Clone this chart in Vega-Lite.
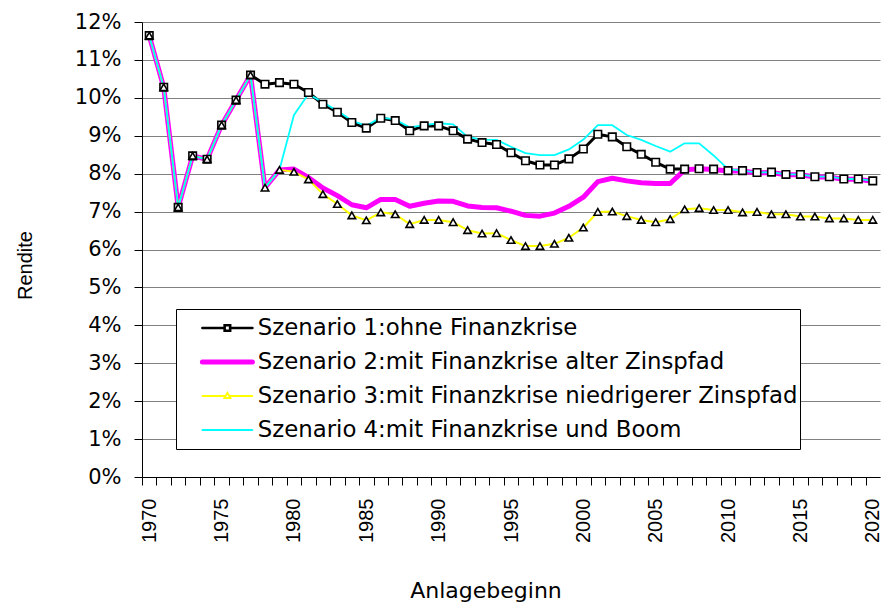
{
  "$schema": "https://vega.github.io/schema/vega-lite/v6.json",
  "width": 738,
  "height": 455,
  "autosize": {"type": "none"},
  "padding": {"left": 142, "top": 22, "right": 4, "bottom": 129},
  "background": "white",
  "config": {"view": {"stroke": null}, "font": "DejaVu Sans"},
  "data": {"values": [
    {"year":1970,"s1":0.1164,"s2":0.1164,"s3":0.1164,"s4":0.1164},
    {"year":1971,"s1":0.1028,"s2":0.1028,"s3":0.1028,"s4":0.1028},
    {"year":1972,"s1":0.0711,"s2":0.0711,"s3":0.0711,"s4":0.0711},
    {"year":1973,"s1":0.0847,"s2":0.0847,"s3":0.0847,"s4":0.0847},
    {"year":1974,"s1":0.0838,"s2":0.0838,"s3":0.0838,"s4":0.0838},
    {"year":1975,"s1":0.0928,"s2":0.0928,"s3":0.0928,"s4":0.0928},
    {"year":1976,"s1":0.0994,"s2":0.0994,"s3":0.0994,"s4":0.0994},
    {"year":1977,"s1":0.1060,"s2":0.1060,"s3":0.1060,"s4":0.1060},
    {"year":1978,"s1":0.1036,"s2":0.0763,"s3":0.0763,"s4":0.0763},
    {"year":1979,"s1":0.1040,"s2":0.0810,"s3":0.0810,"s4":0.0810},
    {"year":1980,"s1":0.1036,"s2":0.0812,"s3":0.0805,"s4":0.0955},
    {"year":1981,"s1":0.1014,"s2":0.0790,"s3":0.0785,"s4":0.1010},
    {"year":1982,"s1":0.0983,"s2":0.0762,"s3":0.0746,"s4":0.0988},
    {"year":1983,"s1":0.0962,"s2":0.0742,"s3":0.0720,"s4":0.0966},
    {"year":1984,"s1":0.0935,"s2":0.0718,"s3":0.0690,"s4":0.0940},
    {"year":1985,"s1":0.0920,"s2":0.0710,"s3":0.0677,"s4":0.0926},
    {"year":1986,"s1":0.0946,"s2":0.0732,"s3":0.0698,"s4":0.0948},
    {"year":1987,"s1":0.0940,"s2":0.0732,"s3":0.0693,"s4":0.0943},
    {"year":1988,"s1":0.0913,"s2":0.0714,"s3":0.0667,"s4":0.0922},
    {"year":1989,"s1":0.0926,"s2":0.0722,"s3":0.0678,"s4":0.0928},
    {"year":1990,"s1":0.0926,"s2":0.0728,"s3":0.0678,"s4":0.0933},
    {"year":1991,"s1":0.0913,"s2":0.0727,"s3":0.0672,"s4":0.0930},
    {"year":1992,"s1":0.0891,"s2":0.0715,"s3":0.0651,"s4":0.0897},
    {"year":1993,"s1":0.0882,"s2":0.0711,"s3":0.0642,"s4":0.0890},
    {"year":1994,"s1":0.0877,"s2":0.0710,"s3":0.0643,"s4":0.0889},
    {"year":1995,"s1":0.0855,"s2":0.0701,"s3":0.0625,"s4":0.0871},
    {"year":1996,"s1":0.0834,"s2":0.0690,"s3":0.0609,"s4":0.0854},
    {"year":1997,"s1":0.0823,"s2":0.0688,"s3":0.0609,"s4":0.0849},
    {"year":1998,"s1":0.0823,"s2":0.0696,"s3":0.0615,"s4":0.0849},
    {"year":1999,"s1":0.0839,"s2":0.0714,"s3":0.0631,"s4":0.0864},
    {"year":2000,"s1":0.0865,"s2":0.0738,"s3":0.0658,"s4":0.0890},
    {"year":2001,"s1":0.0904,"s2":0.0779,"s3":0.0699,"s4":0.0928},
    {"year":2002,"s1":0.0897,"s2":0.0788,"s3":0.0700,"s4":0.0928},
    {"year":2003,"s1":0.0871,"s2":0.0781,"s3":0.0688,"s4":0.0902},
    {"year":2004,"s1":0.0851,"s2":0.0776,"s3":0.0678,"s4":0.0889},
    {"year":2005,"s1":0.0830,"s2":0.0774,"s3":0.0672,"s4":0.0873},
    {"year":2006,"s1":0.0812,"s2":0.0774,"s3":0.0680,"s4":0.0858},
    {"year":2007,"s1":0.0812,"s2":0.0810,"s3":0.0706,"s4":0.0880},
    {"year":2008,"s1":0.0813,"s2":0.0813,"s3":0.0709,"s4":0.0880},
    {"year":2009,"s1":0.0812,"s2":0.0811,"s3":0.0704,"s4":0.0848},
    {"year":2010,"s1":0.0808,"s2":0.0807,"s3":0.0704,"s4":0.0812},
    {"year":2011,"s1":0.0808,"s2":0.0807,"s3":0.0698,"s4":0.0808},
    {"year":2012,"s1":0.0803,"s2":0.0802,"s3":0.0699,"s4":0.0803},
    {"year":2013,"s1":0.0804,"s2":0.0803,"s3":0.0693,"s4":0.0804},
    {"year":2014,"s1":0.0798,"s2":0.0797,"s3":0.0693,"s4":0.0798},
    {"year":2015,"s1":0.0798,"s2":0.0797,"s3":0.0687,"s4":0.0798},
    {"year":2016,"s1":0.0792,"s2":0.0791,"s3":0.0687,"s4":0.0792},
    {"year":2017,"s1":0.0792,"s2":0.0791,"s3":0.0682,"s4":0.0792},
    {"year":2018,"s1":0.0786,"s2":0.0785,"s3":0.0682,"s4":0.0786},
    {"year":2019,"s1":0.0786,"s2":0.0785,"s3":0.0678,"s4":0.0786},
    {"year":2020,"s1":0.0781,"s2":0.0780,"s3":0.0678,"s4":0.0781}
  ]},
  "transform": [{"fold": ["s1", "s2", "s3", "s4"], "as": ["series", "value"]}],
  "encoding": {
    "x": {
      "field": "year", "type": "quantitative",
      "scale": {"domain": [1969.5, 2020.5], "nice": false, "zero": false},
      "axis": {
        "values": [1970,1971,1972,1973,1974,1975,1976,1977,1978,1979,1980,1981,1982,1983,1984,1985,1986,1987,1988,1989,1990,1991,1992,1993,1994,1995,1996,1997,1998,1999,2000,2001,2002,2003,2004,2005,2006,2007,2008,2009,2010,2011,2012,2013,2014,2015,2016,2017,2018,2019,2020,2021],
        "format": "d",
        "tickOffset": -7.235,
        "labelOffset": 7.235,
        "labelExpr": "datum.value % 5 == 0 && datum.value <= 2020 ? datum.label : ''",
        "labelAngle": 270, "labelAlign": "right", "labelBaseline": "middle",
        "labelFont": "Liberation Sans", "labelFontSize": 20, "labelColor": "black",
        "labelPadding": 13, "labelOverlap": false, "labelBound": false, "labelFlush": false,
        "tickSize": 8, "tickColor": "black", "tickWidth": 1,
        "domainColor": "black", "domainWidth": 1, "grid": false,
        "title": "Anlagebeginn", "titleFont": "DejaVu Sans", "titleFontSize": 22,
        "titleFontWeight": "normal", "titleColor": "black",
        "titleX": 343.5, "titleY": 120, "titleAlign": "center", "titleBaseline": "alphabetic"
      }
    },
    "y": {
      "field": "value", "type": "quantitative",
      "scale": {"domain": [0, 0.12], "nice": false},
      "axis": {
        "values": [0,0.01,0.02,0.03,0.04,0.05,0.06,0.07,0.08,0.09,0.10,0.11,0.12],
        "format": ".0%",
        "labelFont": "DejaVu Sans", "labelFontSize": 21, "labelColor": "black",
        "labelPadding": 13, "labelOverlap": false, "labelBound": false, "labelFlush": false,
        "tickSize": 8, "tickColor": "black", "tickWidth": 1,
        "domainColor": "black", "domainWidth": 1,
        "grid": true, "gridColor": "#808080", "gridWidth": 1,
        "title": "Rendite", "titleFont": "Liberation Sans", "titleFontSize": 20,
        "titleFontWeight": "normal", "titleColor": "black", "titleAngle": 270,
        "titleX": -111, "titleY": 243, "titleAlign": "center", "titleBaseline": "alphabetic"
      }
    }
  },
  "layer": [
    {
      "transform": [{"filter": "datum.series == 's1'"}],
      "mark": {"type": "line", "strokeWidth": 3, "strokeJoin": "round"},
      "encoding": {
        "stroke": {
          "field": "series", "type": "nominal",
          "scale": {"domain": ["s1", "s2", "s3", "s4"], "range": ["#000000", "#ff00ff", "#ffff00", "#00ffff"]},
          "legend": {
            "orient": "none", "legendX": 34, "legendY": 287, "title": null,
            "padding": 2, "clipHeight": 34, "rowPadding": 0,
            "symbolType": "stroke", "symbolSize": 2500, "symbolOffset": 38,
            "labelOffset": 19, "labelFont": "DejaVu Sans", "labelFontSize": 22.8,
            "labelColor": "black", "labelLimit": 1000,
            "strokeColor": "black", "fillColor": "white",
            "labelExpr": "(datum.value == 's1' ? 'Szenario 1:ohne Finanzkrise' : datum.value == 's2' ? 'Szenario 2:mit Finanzkrise alter Zinspfad' : datum.value == 's3' ? 'Szenario 3:mit Finanzkrise niedrigerer Zinspfad' : 'Szenario 4:mit Finanzkrise und Boom') + '\u00a0'",
            "encode": {
              "symbols": {
                "update": {
                  "shape": {"signal": "datum.value == 's1' ? 'M-1,0H-0.11M0.11,0H1M-0.11,-0.11H0.11V0.11H-0.11Z' : datum.value == 's3' ? 'M-1,0H-0.08M0.08,0H1M0,-0.13L0.12,0.08H-0.12Z' : 'stroke'"},
                  "stroke": {"signal": "datum.value == 's1' ? '#000000' : datum.value == 's2' ? '#ff00ff' : datum.value == 's3' ? {gradient: 'linear', x1: 0, y1: 0, x2: 1, y2: 0, stops: [{offset: 0, color: '#ffff00'}, {offset: 0.455, color: '#ffff00'}, {offset: 0.455, color: '#000000'}, {offset: 0.545, color: '#000000'}, {offset: 0.545, color: '#ffff00'}, {offset: 1, color: '#ffff00'}]} : '#00ffff'"},
                  "fill": {"value": "#ffffff"},
                  "fillOpacity": {"value": 1},
                  "strokeOpacity": {"value": 1},
                  "opacity": {"value": 1},
                  "strokeWidth": {"signal": "datum.value == 's2' ? 5 : datum.value == 's1' ? 2.6 : 1.8"},
                  "strokeCap": {"value": "round"}
                }
              }
            }
          }
        }
      }
    },
    {
      "transform": [{"filter": "datum.series == 's2'"}],
      "mark": {"type": "line", "strokeWidth": 5, "strokeJoin": "round"},
      "encoding": {"stroke": {"field": "series", "type": "nominal"}}
    },
    {
      "transform": [{"filter": "datum.series == 's3'"}],
      "mark": {"type": "line", "strokeWidth": 2, "strokeJoin": "round"},
      "encoding": {"stroke": {"field": "series", "type": "nominal"}}
    },
    {
      "transform": [{"filter": "datum.series == 's4'"}],
      "mark": {"type": "line", "strokeWidth": 1.8, "strokeJoin": "round"},
      "encoding": {"stroke": {"field": "series", "type": "nominal"}}
    },
    {
      "transform": [{"filter": "datum.series == 's1' || datum.series == 's3'"}],
      "mark": {"type": "point", "filled": true, "fill": "white", "stroke": "black", "strokeWidth": 1.6, "size": 56, "opacity": 1},
      "encoding": {
        "shape": {
          "field": "series", "type": "nominal",
          "scale": {"range": ["square", "triangle-up"]},
          "legend": null
        }
      }
    }
  ]
}
